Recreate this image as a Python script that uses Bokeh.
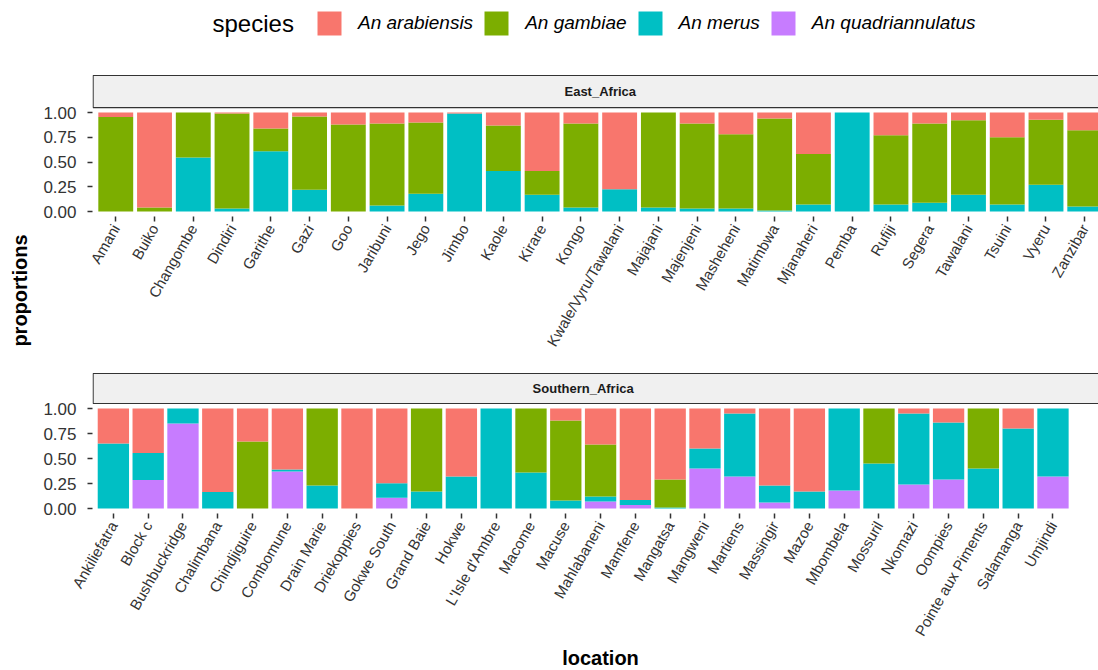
import math
from bokeh.plotting import figure
from bokeh.models import (ColumnDataSource, Range1d, FixedTicker, NumeralTickFormatter,
                          Legend, LegendItem, Label)
from bokeh.layouts import column, row
from bokeh.embed import file_html
from bokeh.resources import INLINE
from bokeh.core.properties import value

# ---------------- data ----------------
species = ["An arabiensis", "An gambiae", "An merus", "An quadriannulatus"]
species_colors = ["#F8766D", "#7CAE00", "#00BFC4", "#C77CFF"]

east_locations = ["Amani", "Buiko", "Changombe", "Dindiri", "Garithe", "Gazi", "Goo",
                  "Jaribuni", "Jego", "Jimbo", "Kaole", "Kirare", "Kongo",
                  "Kwale/Vyru/Tawalani", "Majajani", "Majenjeni", "Masheheni", "Matimbwa",
                  "Mjanaheri", "Pemba", "Rufiji", "Segera", "Tawalani", "Tsuini", "Vyeru",
                  "Zanzibar"]
east_arabiensis = [0.045, 0.96, 0.0, 0.01, 0.162, 0.04, 0.12, 0.11, 0.10, 0.01, 0.13, 0.59,
                   0.11, 0.774, 0.0, 0.11, 0.22, 0.06, 0.42, 0.0, 0.23, 0.11, 0.077, 0.25,
                   0.074, 0.18]
east_gambiae = [0.955, 0.04, 0.453, 0.96, 0.23, 0.74, 0.88, 0.83, 0.72, 0.0, 0.46, 0.24,
                0.85, 0.0, 0.96, 0.86, 0.75, 0.93, 0.51, 0.0, 0.70, 0.80, 0.753, 0.68,
                0.656, 0.77]
east_merus = [0.0, 0.0, 0.547, 0.03, 0.608, 0.22, 0.0, 0.06, 0.18, 0.99, 0.41, 0.17,
              0.04, 0.226, 0.04, 0.03, 0.03, 0.01, 0.07, 1.0, 0.07, 0.09, 0.17, 0.07,
              0.27, 0.05]
east_quadriannulatus = [0.0, 0.0, 0.0, 0.0, 0.0, 0.0, 0.0, 0.0, 0.0, 0.0, 0.0, 0.0, 0.0,
                        0.0, 0.0, 0.0, 0.0, 0.0, 0.0, 0.0, 0.0, 0.0, 0.0, 0.0, 0.0, 0.0]

south_locations = ["Ankiliefatra", "Block c", "Bushbuckridge", "Chalimbana", "Chindjiguire",
                   "Combomune", "Drain Marie", "Driekoppies", "Gokwe South", "Grand Baie",
                   "Hokwe", "L'Isle d'Ambre", "Macome", "Macuse", "Mahlabaneni", "Mamfene",
                   "Mangatsa", "Mangweni", "Martiens", "Massingir", "Mazoe", "Mbombela",
                   "Mossuril", "Nkomazi", "Oompies", "Pointe aux Piments", "Salamanga",
                   "Umjindi"]
south_arabiensis = [0.35, 0.446, 0.0, 0.834, 0.33, 0.61, 0.0, 1.0, 0.747, 0.0, 0.68, 0.0,
                    0.0, 0.12, 0.36, 0.915, 0.71, 0.40, 0.05, 0.77, 0.83, 0.0, 0.0, 0.05,
                    0.14, 0.0, 0.20, 0.0]
south_gambiae = [0.0, 0.0, 0.0, 0.0, 0.67, 0.0, 0.77, 0.0, 0.0, 0.83, 0.0, 0.0, 0.64, 0.80,
                 0.52, 0.0, 0.28, 0.0, 0.0, 0.0, 0.0, 0.0, 0.55, 0.0, 0.0, 0.60, 0.0, 0.0]
south_merus = [0.65, 0.27, 0.15, 0.166, 0.0, 0.02, 0.23, 0.0, 0.145, 0.17, 0.32, 1.0, 0.36,
               0.08, 0.05, 0.05, 0.01, 0.20, 0.63, 0.17, 0.17, 0.82, 0.45, 0.71, 0.57, 0.40,
               0.80, 0.68]
south_quadriannulatus = [0.0, 0.284, 0.85, 0.0, 0.0, 0.37, 0.0, 0.0, 0.108, 0.0, 0.0, 0.0,
                         0.0, 0.0, 0.07, 0.035, 0.0, 0.40, 0.32, 0.06, 0.0, 0.18, 0.0, 0.24,
                         0.29, 0.0, 0.0, 0.32]

y_ticks = [0.0, 0.25, 0.5, 0.75, 1.0]

FONT = "Liberation Sans"
TICK_COLOR = "#333333"
STRIP_FILL = "#F0F0F0"
STRIP_LINE = "#333333"


def blank_fig(w, h):
    f = figure(width=w, height=h, output_backend="svg", toolbar_location=None,
               x_range=Range1d(0, w), y_range=Range1d(0, h),
               min_border=0, min_border_left=0, min_border_right=0,
               min_border_top=0, min_border_bottom=0)
    f.axis.visible = False
    f.grid.visible = False
    f.outline_line_color = None
    return f


def facet(title, locations, ar, ga, me, qu, pitch_px, top_extra, fig_h, top_border,
          bottom_border):
    n = len(locations)
    frame_w = 1006
    x_start = 0.4
    x_end = x_start + frame_w / pitch_px
    px_per_unit = (fig_h - top_border - bottom_border) / (1.1 + top_extra)
    y_top = 1.05 + top_extra
    p = figure(width=1060, height=fig_h, output_backend="svg", toolbar_location=None,
               x_range=Range1d(x_start, x_end), y_range=Range1d(-0.05, y_top),
               min_border_left=54, min_border_right=0, min_border_top=top_border,
               min_border_bottom=bottom_border)
    p.outline_line_color = None
    p.background_fill_color = "white"
    p.border_fill_color = "white"
    p.xgrid.visible = False
    p.ygrid.visible = False

    src = ColumnDataSource(dict(x=list(range(1, n + 1)), ar=ar, ga=ga, me=me, qu=qu))
    stack_cols = ["qu", "me", "ga", "ar"]
    stack_colors = [species_colors[3], species_colors[2], species_colors[1], species_colors[0]]
    p.vbar_stack(stack_cols, x="x", width=0.9, source=src, fill_color=stack_colors,
                 line_color=None)

    # facet strip
    strip_top = 1.05 + top_extra - 2.0 / px_per_unit
    p.quad(left=[x_start + 0.6 / pitch_px], right=[x_end + 1], bottom=[1.05], top=[strip_top],
           fill_color=STRIP_FILL, line_color=STRIP_LINE, line_width=1.2)
    p.add_layout(Label(x=(0.4 + n + 0.6) / 2, y=(1.05 + strip_top) / 2, text=title,
                       text_align="center", text_baseline="middle",
                       text_font=FONT, text_font_size="13px",
                       text_font_style="bold", text_color="#1A1A1A"))

    p.xaxis.ticker = FixedTicker(ticks=list(range(1, n + 1)))
    p.xaxis.major_label_overrides = {i + 1: loc for i, loc in enumerate(locations)}
    p.xaxis.major_label_orientation = math.pi / 3
    p.yaxis.ticker = FixedTicker(ticks=y_ticks)
    p.yaxis.formatter = NumeralTickFormatter(format="0.00")
    for ax in (p.xaxis, p.yaxis):
        ax.axis_line_color = None
        ax.minor_tick_line_color = None
        ax.major_tick_line_color = TICK_COLOR
        ax.major_tick_line_width = 1.5
        ax.major_tick_in = 0
        ax.major_tick_out = 5
        ax.major_label_text_font = FONT
        ax.major_label_text_color = TICK_COLOR
    p.xaxis.major_label_text_font_size = "15px"
    p.yaxis.major_label_text_font_size = "17px"
    p.xaxis.major_label_standoff = 4
    p.yaxis.major_label_standoff = 11
    return p


east = facet("East_Africa", east_locations, east_arabiensis, east_gambiae, east_merus,
             east_quadriannulatus, 38.76, 0.344, 299, 7, 149)
south = facet("Southern_Africa", south_locations, south_arabiensis, south_gambiae,
              south_merus, south_quadriannulatus, 34.8, 0.32, 280, 6, 132)

# ---------------- legend strip ----------------
leg = blank_fig(1098, 66)
leg.text(x=[212], y=[43], text=["species"], text_baseline="middle", text_align="left",
         text_font=value(FONT), text_font_size="24px", text_color="black")
items = []
for name, col in zip(species, species_colors):
    r = leg.vbar(x=[float("nan")], top=[float("nan")], width=0.9, fill_color=col,
                 line_color=None)
    items.append(LegendItem(label=name, renderers=[r]))
legend = Legend(items=items, orientation="horizontal", location=(314, 28),
                glyph_width=30, glyph_height=30, label_standoff=14, spacing=8,
                padding=0, margin=0, border_line_color=None, background_fill_alpha=0,
                label_text_font=FONT, label_text_font_size="19px",
                label_text_font_style="italic", label_text_color="black",
                label_height=30)
leg.add_layout(legend, "center")

# ---------------- y label ----------------
ylab = blank_fig(38, 579)
ylab.text(x=[19], y=[355], text=["proportions"], angle=math.pi / 2,
          text_align="center", text_baseline="middle", text_font=value(FONT),
          text_font_size="20px", text_font_style="bold", text_color="black")

# ---------------- x label ----------------
xlab = blank_fig(1098, 25)
xlab.text(x=[600], y=[12.5], text=["location"], text_align="center",
          text_baseline="middle", text_font=value(FONT), text_font_size="20px",
          text_font_style="bold", text_color="black")

layout = column(leg, row(ylab, column(east, south)), xlab)

with open("out.html", "w") as f:
    f.write(file_html(layout, INLINE))
